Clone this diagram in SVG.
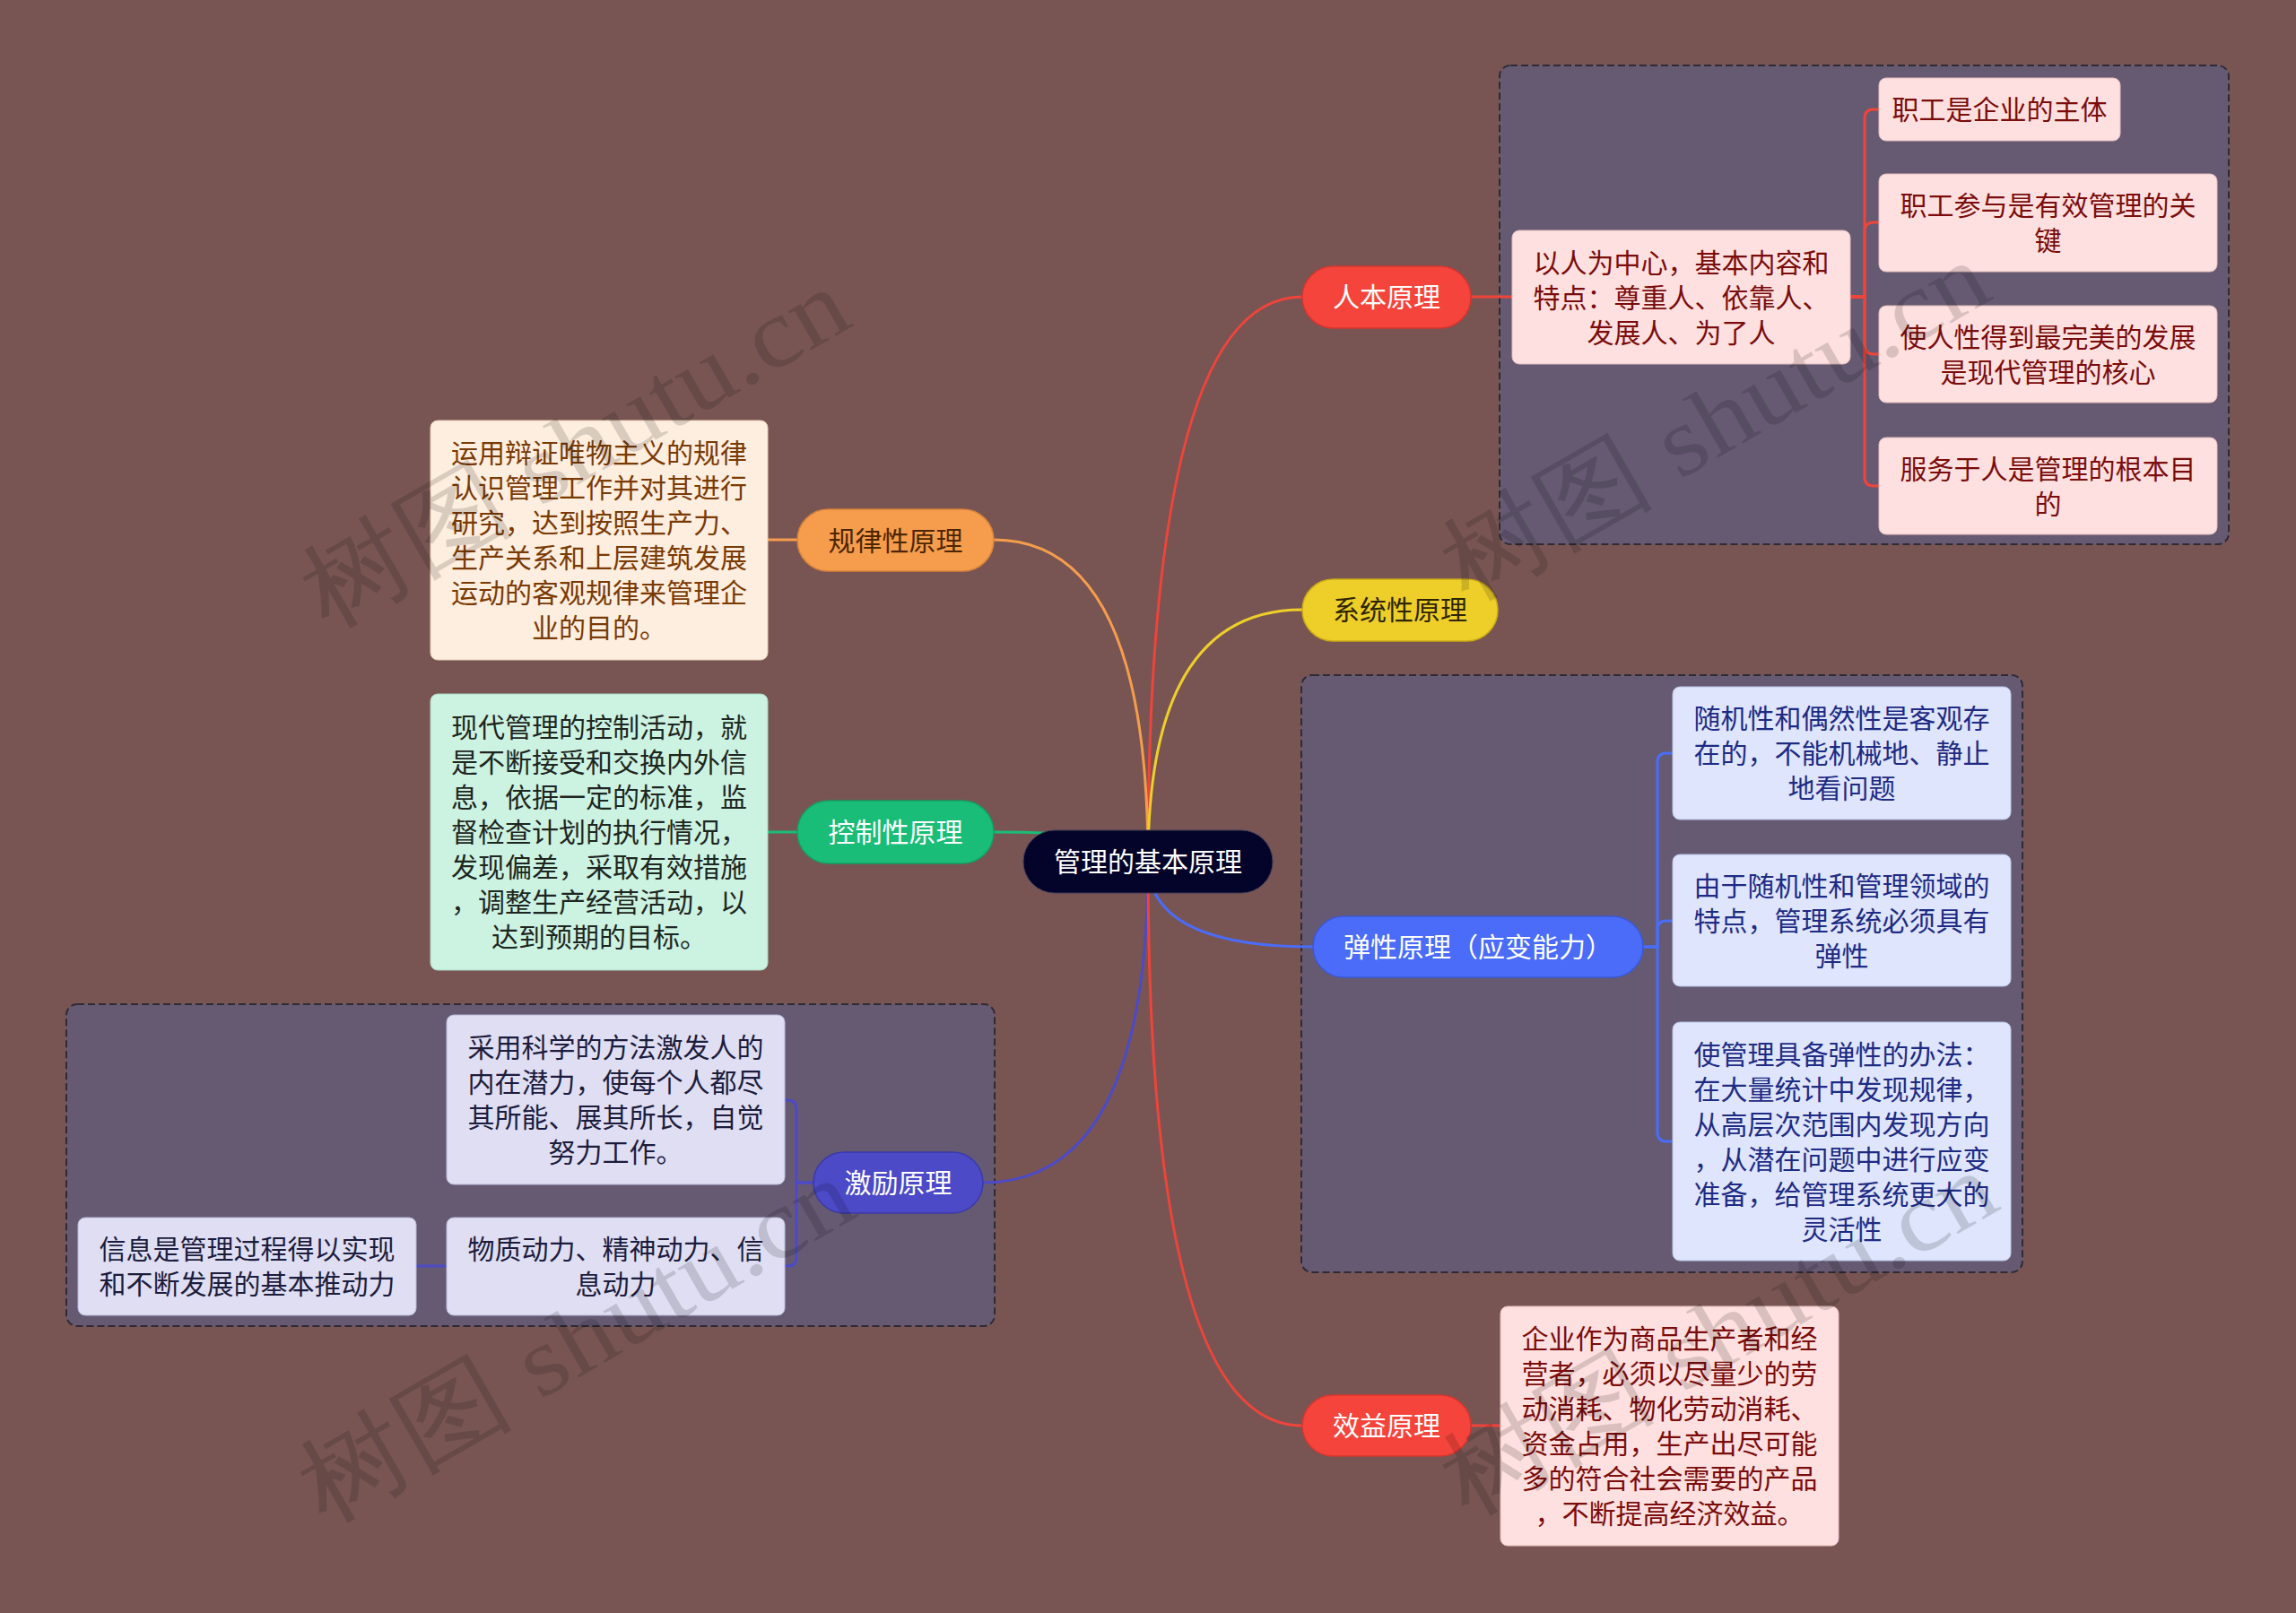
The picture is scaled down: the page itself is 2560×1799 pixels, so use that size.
<svg xmlns="http://www.w3.org/2000/svg" width="2560" height="1799" viewBox="0 0 2560 1799">
<style>
text{font-family:"Noto Sans CJK SC","Noto Sans",sans-serif;font-size:30px;text-anchor:middle}
.c{fill:none;stroke-width:3}
.red{stroke:#f0443a}.ora{stroke:#f59d4c}.yel{stroke:#eecf2a}.grn{stroke:#19bd78}.blu{stroke:#4a6cf8}.ind{stroke:#4c4ac7}
.grp{fill:#665a73;stroke:#2e2a36;stroke-width:2;stroke-dasharray:8 4}
.pill{stroke-width:1.5}
.pk{fill:#fde0df;stroke:#e3bcbc;stroke-width:1}.pkt{fill:#7a0c0c}
.cr{fill:#fdeedf;stroke:#e5cdb4;stroke-width:1}.crt{fill:#7a3a05}
.mn{fill:#ccf2e2;stroke:#a9d6c3;stroke-width:1}.mnt{fill:#1d2620}
.lv{fill:#dfdef3;stroke:#b9b8d6;stroke-width:1}.lvt{fill:#1c1c3c}
.lb{fill:#dee5fc;stroke:#b7c2e6;stroke-width:1}.lbt{fill:#1e2b84}
.wm{font-family:"Liberation Serif",serif;font-size:110px;fill:#000;fill-opacity:0.14;text-anchor:start}
</style>
<rect x="0" y="0" width="2560" height="1799" fill="#785553"/>

<g id="containers">
<rect class="grp" x="1672" y="73" width="813" height="534" rx="12"/>
<rect class="grp" x="1451" y="753" width="804" height="666" rx="12"/>
<rect class="grp" x="74" y="1120" width="1035" height="359" rx="12"/>
</g>

<g id="connectors">
<path class="c red" d="M1280 961 Q1280 331 1452 331"/>
<path class="c ora" d="M1280 961 Q1280 602 1108 602"/>
<path class="c yel" d="M1280 961 Q1280 680 1452 680"/>
<path class="c grn" d="M1280 961 Q1280 928 1108 928"/>
<path class="c blu" d="M1280 961 Q1280 1056 1464 1056"/>
<path class="c ind" d="M1280 961 Q1280 1319 1096 1319"/>
<path class="c red" d="M1280 961 Q1280 1590 1452 1590"/>
<path class="c red" d="M1640 331 H1686"/>
<path class="c red" d="M2063 331 H2079 V132 Q2079 122 2089 122 H2095"/>
<path class="c red" d="M2063 331 H2079 V258 Q2079 248 2089 248 H2095"/>
<path class="c red" d="M2063 331 H2079 V385 Q2079 395 2089 395 H2095"/>
<path class="c red" d="M2063 331 H2079 V532 Q2079 542 2089 542 H2095"/>
<path class="c ora" d="M856 602 H889"/>
<path class="c grn" d="M856 928 H889"/>
<path class="c ind" d="M907 1319 H888 V1237 Q888 1227 878 1227 H875"/>
<path class="c ind" d="M907 1319 H888 V1402 Q888 1412 878 1412 H875"/>
<path class="c ind" d="M498 1412 H464"/>
<path class="c blu" d="M1832 1056 H1848 V850 Q1848 840 1858 840 H1865"/>
<path class="c blu" d="M1832 1056 H1848 V1037 Q1848 1027 1858 1027 H1865"/>
<path class="c blu" d="M1832 1056 H1848 V1263 Q1848 1273 1858 1273 H1865"/>
<path class="c red" d="M1640 1590 H1673"/>
</g>

<g id="center">
<rect x="1141" y="926" width="278" height="70" rx="35" fill="#04042a" stroke="#3a3a55" stroke-width="1"/>
<text x="1280" y="972" fill="#ffffff">管理的基本原理</text>
</g>

<g id="renben">
<rect class="pill" x="1452" y="297" width="188" height="69" rx="34.5" fill="#f5443b" stroke="#d8352e"/>
<text x="1546" y="342" fill="#ffffff">人本原理</text>
</g>
<g id="renben-1">
<rect class="pk" x="1686" y="257" width="377" height="149" rx="8"/>
<text class="pkt" x="1874.5" y="303.5">以人为中心，基本内容和</text>
<text class="pkt" x="1874.5" y="342.5">特点：尊重人、依靠人、</text>
<text class="pkt" x="1874.5" y="381.5">发展人、为了人</text>
</g>
<g id="renben-1-1">
<rect class="pk" x="2095" y="87" width="269" height="70" rx="8"/>
<text class="pkt" x="2229.5" y="133">职工是企业的主体</text>
</g>
<g id="renben-1-2">
<rect class="pk" x="2095" y="194" width="377" height="109" rx="8"/>
<text class="pkt" x="2283.5" y="240">职工参与是有效管理的关</text>
<text class="pkt" x="2283.5" y="279">键</text>
</g>
<g id="renben-1-3">
<rect class="pk" x="2095" y="341" width="377" height="108" rx="8"/>
<text class="pkt" x="2283.5" y="386.5">使人性得到最完美的发展</text>
<text class="pkt" x="2283.5" y="425.5">是现代管理的核心</text>
</g>
<g id="renben-1-4">
<rect class="pk" x="2095" y="488" width="377" height="108" rx="8"/>
<text class="pkt" x="2283.5" y="533.5">服务于人是管理的根本目</text>
<text class="pkt" x="2283.5" y="572.5">的</text>
</g>

<g id="guilv">
<rect class="pill" x="889" y="568" width="219" height="69" rx="34.5" fill="#f59d4c" stroke="#d9843a"/>
<text x="998.5" y="613.5" fill="#4d2600">规律性原理</text>
</g>
<g id="guilv-1">
<rect class="cr" x="480" y="469" width="376" height="267" rx="8"/>
<text class="crt" x="668" y="516">运用辩证唯物主义的规律</text>
<text class="crt" x="668" y="555">认识管理工作并对其进行</text>
<text class="crt" x="668" y="594">研究，达到按照生产力、</text>
<text class="crt" x="668" y="633">生产关系和上层建筑发展</text>
<text class="crt" x="668" y="672">运动的客观规律来管理企</text>
<text class="crt" x="668" y="711">业的目的。</text>
</g>

<g id="xitong">
<rect class="pill" x="1452" y="646" width="218" height="69" rx="34.5" fill="#eecf2a" stroke="#c9ab14"/>
<text x="1561" y="691" fill="#2e2500">系统性原理</text>
</g>

<g id="kongzhi">
<rect class="pill" x="889" y="893" width="219" height="70" rx="35" fill="#19bd78" stroke="#12a064"/>
<text x="998.5" y="939" fill="#ffffff">控制性原理</text>
</g>
<g id="kongzhi-1">
<rect class="mn" x="480" y="774" width="376" height="308" rx="8"/>
<text class="mnt" x="668" y="822">现代管理的控制活动，就</text>
<text class="mnt" x="668" y="861">是不断接受和交换内外信</text>
<text class="mnt" x="668" y="900">息，依据一定的标准，监</text>
<text class="mnt" x="668" y="939">督检查计划的执行情况，</text>
<text class="mnt" x="668" y="978">发现偏差，采取有效措施</text>
<text class="mnt" x="668" y="1017">，调整生产经营活动，以</text>
<text class="mnt" x="668" y="1056">达到预期的目标。</text>
</g>

<g id="tanxing">
<rect class="pill" x="1464" y="1022" width="368" height="68" rx="34" fill="#4a6cf8" stroke="#3a58d8"/>
<text x="1648" y="1067" fill="#ffffff">弹性原理（应变能力）</text>
</g>
<g id="tanxing-1">
<rect class="lb" x="1865" y="766" width="377" height="148" rx="8"/>
<text class="lbt" x="2053.5" y="812">随机性和偶然性是客观存</text>
<text class="lbt" x="2053.5" y="851">在的，不能机械地、静止</text>
<text class="lbt" x="2053.5" y="890">地看问题</text>
</g>
<g id="tanxing-2">
<rect class="lb" x="1865" y="953" width="377" height="147" rx="8"/>
<text class="lbt" x="2053.5" y="998.5">由于随机性和管理领域的</text>
<text class="lbt" x="2053.5" y="1037.5">特点，管理系统必须具有</text>
<text class="lbt" x="2053.5" y="1076.5">弹性</text>
</g>
<g id="tanxing-3">
<rect class="lb" x="1865" y="1140" width="377" height="266" rx="8"/>
<text class="lbt" x="2053.5" y="1186.5">使管理具备弹性的办法：</text>
<text class="lbt" x="2053.5" y="1225.5">在大量统计中发现规律，</text>
<text class="lbt" x="2053.5" y="1264.5">从高层次范围内发现方向</text>
<text class="lbt" x="2053.5" y="1303.5">，从潜在问题中进行应变</text>
<text class="lbt" x="2053.5" y="1342.5">准备，给管理系统更大的</text>
<text class="lbt" x="2053.5" y="1381.5">灵活性</text>
</g>

<g id="jili">
<rect class="pill" x="907" y="1285" width="189" height="68" rx="34" fill="#4c4ac7" stroke="#3b39a8"/>
<text x="1001.5" y="1330" fill="#ffffff">激励原理</text>
</g>
<g id="jili-1">
<rect class="lv" x="498" y="1132" width="377" height="189" rx="8"/>
<text class="lvt" x="686.5" y="1179">采用科学的方法激发人的</text>
<text class="lvt" x="686.5" y="1218">内在潜力，使每个人都尽</text>
<text class="lvt" x="686.5" y="1257">其所能、展其所长，自觉</text>
<text class="lvt" x="686.5" y="1296">努力工作。</text>
</g>
<g id="jili-2">
<rect class="lv" x="498" y="1358" width="377" height="109" rx="8"/>
<text class="lvt" x="686.5" y="1404">物质动力、精神动力、信</text>
<text class="lvt" x="686.5" y="1443">息动力</text>
</g>
<g id="jili-2-1">
<rect class="lv" x="87" y="1358" width="377" height="109" rx="8"/>
<text class="lvt" x="275.5" y="1404">信息是管理过程得以实现</text>
<text class="lvt" x="275.5" y="1443">和不断发展的基本推动力</text>
</g>

<g id="xiaoyi">
<rect class="pill" x="1452" y="1556" width="188" height="68" rx="34" fill="#f5443b" stroke="#d8352e"/>
<text x="1546" y="1601" fill="#ffffff">效益原理</text>
</g>
<g id="xiaoyi-1">
<rect class="pk" x="1673" y="1457" width="377" height="267" rx="8"/>
<text class="pkt" x="1861.5" y="1504">企业作为商品生产者和经</text>
<text class="pkt" x="1861.5" y="1543">营者，必须以尽量少的劳</text>
<text class="pkt" x="1861.5" y="1582">动消耗、物化劳动消耗、</text>
<text class="pkt" x="1861.5" y="1621">资金占用，生产出尽可能</text>
<text class="pkt" x="1861.5" y="1660">多的符合社会需要的产品</text>
<text class="pkt" x="1861.5" y="1699">，不断提高经济效益。</text>
</g>

<g id="watermarks">
<text class="wm" transform="translate(365 702) rotate(-30)" textLength="680" lengthAdjust="spacingAndGlyphs">树图 shutu.cn</text>
<text class="wm" transform="translate(1636 672) rotate(-30)" textLength="680" lengthAdjust="spacingAndGlyphs">树图 shutu.cn</text>
<text class="wm" transform="translate(362 1700) rotate(-30)" textLength="690" lengthAdjust="spacingAndGlyphs">树图 shutu.cn</text>
<text class="wm" transform="translate(1636 1692) rotate(-30)" textLength="690" lengthAdjust="spacingAndGlyphs">树图 shutu.cn</text>
</g>
</svg>
